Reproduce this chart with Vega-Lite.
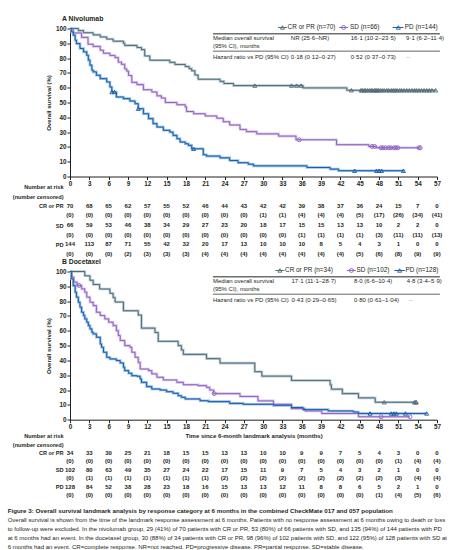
{
  "$schema": "https://vega.github.io/schema/vega-lite/v6.json",
  "padding": {"left": 7, "top": 15.5, "right": 0, "bottom": 0},
  "config": {
    "font": "Liberation Sans",
    "view": {"stroke": null},
    "axis": {"grid": false, "domainColor": "#231f20", "tickColor": "#231f20", "labelColor": "#231f20", "titleColor": "#231f20", "labelFontSize": 6.3, "titleFontSize": 6, "labelFontWeight": "bold", "titleFontWeight": "bold", "tickSize": 3, "labelPadding": 1, "domainWidth": 1, "tickWidth": 1, "labelFlush": false, "labelOverlap": false},
    "text": {"color": "#231f20"},
    "title": {"color": "#231f20"}
  },
  "title": {
    "text": "Figure 3: Overall survival landmark analysis by response category at 6 months in the combined CheckMate 017 and 057 population",
    "subtitle": [
      "Overall survival is shown from the time of the landmark response assessment at 6 months. Patients with no response assessment at 6 months owing to death or loss",
      "to follow-up were excluded. In the nivolumab group, 29 (41%) of 70 patients with CR or PR, 53 (80%) of 66 patients with SD, and 135 (94%) of 144 patients with PD",
      "at 6 months had an event. In the docetaxel group, 30 (88%) of 34 patients with CR or PR, 98 (96%) of 102 patients with SD, and 122 (95%) of 128 patients with SD at",
      "6 months had an event. CR=complete response. NR=not reached. PD=progressive disease. PR=partial response. SD=stable disease."
    ],
    "orient": "bottom", "anchor": "start", "frame": "bounds", "offset": 7, "dx": -4.7,
    "fontSize": 6.2, "fontWeight": "bold", "subtitleFontSize": 6.0, "subtitleFontWeight": "normal",
    "subtitleLineHeight": 9, "subtitlePadding": 2.5, "color": "#231f20", "subtitleColor": "#231f20"
  },
  "spacing": 4,
  "bounds": "flush",
  "vconcat": [
    {
      "width": 367, "height": 148,
      "title": {"text": "A  Nivolumab", "anchor": "start", "frame": "group", "dx": -8, "offset": 1, "fontSize": 6.8, "fontWeight": "bold"},
      "resolve": {"scale": {"color": "independent", "shape": "independent"}},
      "layer": [
        {"data": {"name": "kmA"}, "mark": {"type": "line", "interpolate": "step-after", "strokeWidth": 2.6},
         "encoding": {
           "x": {"field": "t", "type": "quantitative", "scale": {"domain": [0, 57], "nice": false, "zero": false}, "axis": {"values": [0,3,6,9,12,15,18,21,24,27,30,33,36,39,42,45,48,51,54,57], "tickCount": 40, "title": null, "labelOverlap": false, "labelFlush": false}},
           "y": {"field": "s", "type": "quantitative", "scale": {"domain": [0, 100], "nice": false}, "axis": {"values": [0,10,20,30,40,50,60,70,80,90,100], "tickCount": 40, "title": "Overall survival (%)", "titlePadding": 4, "labelOverlap": false, "labelFlush": false}},
           "color": {"field": "g", "type": "nominal", "scale": {"domain": ["CR","SD","PD"], "range": ["#b7ccd5","#d7c5ec","#95c0e6"]}, "legend": null}}},
        {"data": {"name": "kmA"}, "mark": {"type": "line", "interpolate": "step-after", "strokeWidth": 1},
         "encoding": {
           "x": {"field": "t", "type": "quantitative"},
           "y": {"field": "s", "type": "quantitative"},
           "color": {"field": "g", "type": "nominal", "scale": {"domain": ["CR","SD","PD"], "range": ["#506a75","#8f63c2","#1a5aa8"]}, "legend": null}}},
        {"data": {"name": "cenA"}, "mark": {"type": "point", "filled": false, "size": 16, "strokeWidth": 0.9, "opacity": 1},
         "encoding": {
           "x": {"field": "t", "type": "quantitative"},
           "y": {"field": "s", "type": "quantitative"},
           "color": {"field": "g", "type": "nominal", "scale": {"domain": ["CR","SD","PD"], "range": ["#506a75","#8f63c2","#1a5aa8"]}, "legend": null},
           "shape": {"field": "g", "type": "nominal", "scale": {"domain": ["CR","SD","PD"], "range": ["triangle-up","circle","triangle-up"]}, "legend": null}}},
        {"data": {"values": [{}]}, "mark": {"type": "rule", "color": "#506a75", "strokeWidth": 1}, "encoding": {"x": {"datum": 32.3}, "x2": {"datum": 33.7}, "y": {"datum": 100.7}}},
        {"data": {"values": [{}]}, "mark": {"type": "point", "shape": "triangle-up", "filled": false, "size": 16, "strokeWidth": 0.9, "color": "#506a75", "opacity": 1}, "encoding": {"x": {"datum": 33.0}, "y": {"datum": 100.7}}},
        {"data": {"values": [{}]}, "mark": {"type": "text", "align": "left", "baseline": "middle", "fontSize": 6.4}, "encoding": {"x": {"datum": 33.8}, "y": {"datum": 100.7}, "text": {"value": "CR or PR (n=70)"}}},
        {"data": {"values": [{}]}, "mark": {"type": "rule", "color": "#8f63c2", "strokeWidth": 1}, "encoding": {"x": {"datum": 41.8}, "x2": {"datum": 43.2}, "y": {"datum": 100.7}}},
        {"data": {"values": [{}]}, "mark": {"type": "point", "shape": "circle", "filled": false, "size": 16, "strokeWidth": 0.9, "color": "#8f63c2", "opacity": 1}, "encoding": {"x": {"datum": 42.5}, "y": {"datum": 100.7}}},
        {"data": {"values": [{}]}, "mark": {"type": "text", "align": "left", "baseline": "middle", "fontSize": 6.4}, "encoding": {"x": {"datum": 43.5}, "y": {"datum": 100.7}, "text": {"value": "SD (n=66)"}}},
        {"data": {"values": [{}]}, "mark": {"type": "rule", "color": "#1a5aa8", "strokeWidth": 1}, "encoding": {"x": {"datum": 50.1}, "x2": {"datum": 51.8}, "y": {"datum": 100.7}}},
        {"data": {"values": [{}]}, "mark": {"type": "point", "shape": "triangle-up", "filled": false, "size": 16, "strokeWidth": 0.9, "color": "#1a5aa8", "opacity": 1}, "encoding": {"x": {"datum": 51.0}, "y": {"datum": 100.7}}},
        {"data": {"values": [{}]}, "mark": {"type": "text", "align": "left", "baseline": "middle", "fontSize": 6.4}, "encoding": {"x": {"datum": 52.0}, "y": {"datum": 100.7}, "text": {"value": "PD (n=144)"}}},
        {"data": {"values": [{}]}, "mark": {"type": "rule", "color": "#6d6e71", "strokeWidth": 1.5}, "encoding": {"x": {"datum": 22.2}, "x2": {"datum": 57.45}, "y": {"datum": 96.4}}},
        {"data": {"values": [{}]}, "mark": {"type": "rule", "color": "#231f20", "strokeWidth": 0.7}, "encoding": {"x": {"datum": 22.2}, "x2": {"datum": 57.45}, "y": {"datum": 84.7}}},
        {"data": {"values": [{}]}, "mark": {"type": "text", "align": "left", "baseline": "middle", "fontSize": 6}, "encoding": {"x": {"datum": 22.2}, "y": {"datum": 93.3}, "text": {"value": "Median overall survival"}}},
        {"data": {"values": [{}]}, "mark": {"type": "text", "align": "left", "baseline": "middle", "fontSize": 6}, "encoding": {"x": {"datum": 22.2}, "y": {"datum": 88.1}, "text": {"value": "(95% CI), months"}}},
        {"data": {"values": [{}]}, "mark": {"type": "text", "align": "left", "baseline": "middle", "fontSize": 6}, "encoding": {"x": {"datum": 22.2}, "y": {"datum": 81.0}, "text": {"value": "Hazard ratio vs PD (95% CI)"}}},
        {"data": {"values": [{}]}, "mark": {"type": "text", "align": "left", "baseline": "middle", "fontSize": 6}, "encoding": {"x": {"datum": 34.3}, "y": {"datum": 93.3}, "text": {"value": "NR (25·6–NR)"}}},
        {"data": {"values": [{}]}, "mark": {"type": "text", "align": "left", "baseline": "middle", "fontSize": 6}, "encoding": {"x": {"datum": 43.6}, "y": {"datum": 93.3}, "text": {"value": "16·1 (10·2–23·5)"}}},
        {"data": {"values": [{}]}, "mark": {"type": "text", "align": "left", "baseline": "middle", "fontSize": 6}, "encoding": {"x": {"datum": 52.2}, "y": {"datum": 93.3}, "text": {"value": "9·1 (6·2–11·4)"}}},
        {"data": {"values": [{}]}, "mark": {"type": "text", "align": "left", "baseline": "middle", "fontSize": 6}, "encoding": {"x": {"datum": 34.3}, "y": {"datum": 81.0}, "text": {"value": "0·18 (0·12–0·27)"}}},
        {"data": {"values": [{}]}, "mark": {"type": "text", "align": "left", "baseline": "middle", "fontSize": 6}, "encoding": {"x": {"datum": 43.6}, "y": {"datum": 81.0}, "text": {"value": "0·52 (0·37–0·73)"}}},
        {"data": {"values": [{}]}, "mark": {"type": "text", "align": "left", "baseline": "middle", "fontSize": 6}, "encoding": {"x": {"datum": 52.2}, "y": {"datum": 81.0}, "text": {"value": "··"}}}
      ]
    },
    {
      "width": 367, "height": 86.72,
      "data": {"name": "riskA"},
      "transform": [{"fold": ["CR","CRc","SD","SDc","PD","PDc"], "as": ["row","v"]}],
      "mark": {"type": "text", "fontSize": 6, "fontWeight": "bold", "baseline": "middle", "align": "center"},
      "encoding": {
        "x": {"field": "t", "type": "quantitative", "scale": {"domain": [0, 57], "nice": false, "zero": false}, "axis": null},
        "y": {"field": "row", "type": "nominal", "scale": {"type": "point", "domain": ["h1","h2","CR","CRc","SD","SDc","PD","PDc"], "padding": 2.088, "align": 0.312},
              "axis": {"title": null, "domain": false, "ticks": false, "labelPadding": 7, "labelFontSize": 5.6, "labelFontWeight": "bold", "labelOverlap": false,
                       "labelExpr": "datum.value=='h1'?'Number at risk':datum.value=='h2'?'(number censored)':datum.value=='CR'?'CR or PR':datum.value=='SD'?'SD':datum.value=='PD'?'PD':''"}},
        "text": {"field": "v", "type": "nominal"}
      }
    },
    {
      "width": 367, "height": 148.2,
      "title": {"text": "B  Docetaxel", "anchor": "start", "frame": "group", "dx": -8, "offset": 1, "fontSize": 6.8, "fontWeight": "bold"},
      "resolve": {"scale": {"color": "independent", "shape": "independent"}},
      "layer": [
        {"data": {"name": "kmB"}, "mark": {"type": "line", "interpolate": "step-after", "strokeWidth": 2.6},
         "encoding": {
           "x": {"field": "t", "type": "quantitative", "scale": {"domain": [0, 57], "nice": false, "zero": false}, "axis": {"values": [0,3,6,9,12,15,18,21,24,27,30,33,36,39,42,45,48,51,54,57], "tickCount": 40, "title": "Time since 6-month landmark analysis (months)", "titlePadding": 2.5, "labelOverlap": false, "labelFlush": false}},
           "y": {"field": "s", "type": "quantitative", "scale": {"domain": [0, 100], "nice": false}, "axis": {"values": [0,10,20,30,40,50,60,70,80,90,100], "tickCount": 40, "title": "Overall survival (%)", "titlePadding": 4, "labelOverlap": false, "labelFlush": false}},
           "color": {"field": "g", "type": "nominal", "scale": {"domain": ["CR","SD","PD"], "range": ["#b7ccd5","#d7c5ec","#95c0e6"]}, "legend": null}}},
        {"data": {"name": "kmB"}, "mark": {"type": "line", "interpolate": "step-after", "strokeWidth": 1},
         "encoding": {
           "x": {"field": "t", "type": "quantitative"},
           "y": {"field": "s", "type": "quantitative"},
           "color": {"field": "g", "type": "nominal", "scale": {"domain": ["CR","SD","PD"], "range": ["#506a75","#8f63c2","#1a5aa8"]}, "legend": null}}},
        {"data": {"name": "cenB"}, "mark": {"type": "point", "filled": false, "size": 16, "strokeWidth": 0.9, "opacity": 1},
         "encoding": {
           "x": {"field": "t", "type": "quantitative"},
           "y": {"field": "s", "type": "quantitative"},
           "color": {"field": "g", "type": "nominal", "scale": {"domain": ["CR","SD","PD"], "range": ["#506a75","#8f63c2","#1a5aa8"]}, "legend": null},
           "shape": {"field": "g", "type": "nominal", "scale": {"domain": ["CR","SD","PD"], "range": ["triangle-up","circle","triangle-up"]}, "legend": null}}},
        {"data": {"values": [{}]}, "mark": {"type": "rule", "color": "#506a75", "strokeWidth": 1}, "encoding": {"x": {"datum": 31.9}, "x2": {"datum": 33.3}, "y": {"datum": 100.7}}},
        {"data": {"values": [{}]}, "mark": {"type": "point", "shape": "triangle-up", "filled": false, "size": 16, "strokeWidth": 0.9, "color": "#506a75", "opacity": 1}, "encoding": {"x": {"datum": 32.6}, "y": {"datum": 100.7}}},
        {"data": {"values": [{}]}, "mark": {"type": "text", "align": "left", "baseline": "middle", "fontSize": 6.4}, "encoding": {"x": {"datum": 33.4}, "y": {"datum": 100.7}, "text": {"value": "CR or PR (n=34)"}}},
        {"data": {"values": [{}]}, "mark": {"type": "rule", "color": "#8f63c2", "strokeWidth": 1}, "encoding": {"x": {"datum": 43.0}, "x2": {"datum": 44.4}, "y": {"datum": 100.7}}},
        {"data": {"values": [{}]}, "mark": {"type": "point", "shape": "circle", "filled": false, "size": 16, "strokeWidth": 0.9, "color": "#8f63c2", "opacity": 1}, "encoding": {"x": {"datum": 43.7}, "y": {"datum": 100.7}}},
        {"data": {"values": [{}]}, "mark": {"type": "text", "align": "left", "baseline": "middle", "fontSize": 6.4}, "encoding": {"x": {"datum": 44.5}, "y": {"datum": 100.7}, "text": {"value": "SD (n=102)"}}},
        {"data": {"values": [{}]}, "mark": {"type": "rule", "color": "#1a5aa8", "strokeWidth": 1}, "encoding": {"x": {"datum": 50.4}, "x2": {"datum": 52.0}, "y": {"datum": 100.7}}},
        {"data": {"values": [{}]}, "mark": {"type": "point", "shape": "triangle-up", "filled": false, "size": 16, "strokeWidth": 0.9, "color": "#1a5aa8", "opacity": 1}, "encoding": {"x": {"datum": 51.2}, "y": {"datum": 100.7}}},
        {"data": {"values": [{}]}, "mark": {"type": "text", "align": "left", "baseline": "middle", "fontSize": 6.4}, "encoding": {"x": {"datum": 52.1}, "y": {"datum": 100.7}, "text": {"value": "PD (n=128)"}}},
        {"data": {"values": [{}]}, "mark": {"type": "rule", "color": "#6d6e71", "strokeWidth": 1.5}, "encoding": {"x": {"datum": 22.2}, "x2": {"datum": 57.45}, "y": {"datum": 96.4}}},
        {"data": {"values": [{}]}, "mark": {"type": "rule", "color": "#231f20", "strokeWidth": 0.7}, "encoding": {"x": {"datum": 22.2}, "x2": {"datum": 57.45}, "y": {"datum": 84.7}}},
        {"data": {"values": [{}]}, "mark": {"type": "text", "align": "left", "baseline": "middle", "fontSize": 6}, "encoding": {"x": {"datum": 22.2}, "y": {"datum": 93.3}, "text": {"value": "Median overall survival"}}},
        {"data": {"values": [{}]}, "mark": {"type": "text", "align": "left", "baseline": "middle", "fontSize": 6}, "encoding": {"x": {"datum": 22.2}, "y": {"datum": 88.1}, "text": {"value": "(95% CI), months"}}},
        {"data": {"values": [{}]}, "mark": {"type": "text", "align": "left", "baseline": "middle", "fontSize": 6}, "encoding": {"x": {"datum": 22.2}, "y": {"datum": 81.0}, "text": {"value": "Hazard ratio vs PD (95% CI)"}}},
        {"data": {"values": [{}]}, "mark": {"type": "text", "align": "left", "baseline": "middle", "fontSize": 6}, "encoding": {"x": {"datum": 34.4}, "y": {"datum": 93.3}, "text": {"value": "17·1 (11·1–28·7)"}}},
        {"data": {"values": [{}]}, "mark": {"type": "text", "align": "left", "baseline": "middle", "fontSize": 6}, "encoding": {"x": {"datum": 44.1}, "y": {"datum": 93.3}, "text": {"value": "8·0 (6·6–10·4)"}}},
        {"data": {"values": [{}]}, "mark": {"type": "text", "align": "left", "baseline": "middle", "fontSize": 6}, "encoding": {"x": {"datum": 52.3}, "y": {"datum": 93.3}, "text": {"value": "4·8 (3·4–5·9)"}}},
        {"data": {"values": [{}]}, "mark": {"type": "text", "align": "left", "baseline": "middle", "fontSize": 6}, "encoding": {"x": {"datum": 34.4}, "y": {"datum": 81.0}, "text": {"value": "0·43 (0·29–0·65)"}}},
        {"data": {"values": [{}]}, "mark": {"type": "text", "align": "left", "baseline": "middle", "fontSize": 6}, "encoding": {"x": {"datum": 44.1}, "y": {"datum": 81.0}, "text": {"value": "0·80 (0·61–1·04)"}}},
        {"data": {"values": [{}]}, "mark": {"type": "text", "align": "left", "baseline": "middle", "fontSize": 6}, "encoding": {"x": {"datum": 52.6}, "y": {"datum": 81.0}, "text": {"value": "··"}}}
      ]
    },
    {
      "width": 367, "height": 76.87,
      "data": {"name": "riskB"},
      "transform": [{"fold": ["CR","CRc","SD","SDc","PD","PDc"], "as": ["row","v"]}],
      "mark": {"type": "text", "fontSize": 6, "fontWeight": "bold", "baseline": "middle", "align": "center"},
      "encoding": {
        "x": {"field": "t", "type": "quantitative", "scale": {"domain": [0, 57], "nice": false, "zero": false}, "axis": null},
        "y": {"field": "row", "type": "nominal", "scale": {"type": "point", "domain": ["h1","h2","CR","CRc","SD","SDc","PD","PDc"], "padding": 1.485, "align": 0.651},
              "axis": {"title": null, "domain": false, "ticks": false, "labelPadding": 7, "labelFontSize": 5.6, "labelFontWeight": "bold", "labelOverlap": false,
                       "labelExpr": "datum.value=='h1'?'Number at risk':datum.value=='h2'?'(number censored)':datum.value=='CR'?'CR or PR':datum.value=='SD'?'SD':datum.value=='PD'?'PD':''"}},
        "text": {"field": "v", "type": "nominal"}
      }
    }
  ],
  "datasets": {
    "kmA": [
      {"g":"CR","t":0,"s":100},{"g":"CR","t":1.3,"s":98.57},{"g":"CR","t":2.1,"s":97.14},{"g":"CR","t":3.6,"s":95.71},{"g":"CR","t":4.7,"s":94.29},{"g":"CR","t":5.7,"s":92.86},{"g":"CR","t":6.7,"s":91.43},{"g":"CR","t":8.3,"s":90.0},{"g":"CR","t":8.5,"s":88.57},{"g":"CR","t":10.4,"s":87.14},{"g":"CR","t":11.1,"s":85.71},{"g":"CR","t":11.6,"s":81.43},{"g":"CR","t":12.4,"s":78.57},{"g":"CR","t":15.5,"s":77.14},{"g":"CR","t":16.3,"s":75.71},{"g":"CR","t":17.9,"s":74.29},{"g":"CR","t":18.5,"s":72.86},{"g":"CR","t":18.9,"s":71.43},{"g":"CR","t":19.4,"s":68.57},{"g":"CR","t":19.9,"s":65.71},{"g":"CR","t":23.3,"s":64.29},{"g":"CR","t":23.9,"s":62.86},{"g":"CR","t":25.4,"s":61.43},{"g":"CR","t":36.2,"s":59.86},{"g":"CR","t":43.0,"s":58.27},{"g":"CR","t":56.8,"s":58.27},
      {"g":"SD","t":0,"s":100},{"g":"SD","t":0.5,"s":97.0},{"g":"SD","t":1.8,"s":94.0},{"g":"SD","t":2.8,"s":89.4},{"g":"SD","t":3.6,"s":87.9},{"g":"SD","t":4.7,"s":85.3},{"g":"SD","t":5.2,"s":83.3},{"g":"SD","t":6.2,"s":81.8},{"g":"SD","t":7.0,"s":80.3},{"g":"SD","t":7.5,"s":77.3},{"g":"SD","t":8.0,"s":75.8},{"g":"SD","t":8.5,"s":72.7},{"g":"SD","t":8.8,"s":71.2},{"g":"SD","t":9.1,"s":68.2},{"g":"SD","t":9.6,"s":63.6},{"g":"SD","t":10.4,"s":62.1},{"g":"SD","t":11.4,"s":58.6},{"g":"SD","t":12.7,"s":57.1},{"g":"SD","t":13.5,"s":54.5},{"g":"SD","t":14.2,"s":53.0},{"g":"SD","t":14.8,"s":50.0},{"g":"SD","t":16.6,"s":48.5},{"g":"SD","t":17.9,"s":47.0},{"g":"SD","t":18.1,"s":43.9},{"g":"SD","t":19.2,"s":42.4},{"g":"SD","t":21.0,"s":40.9},{"g":"SD","t":22.8,"s":39.4},{"g":"SD","t":23.8,"s":37.0},{"g":"SD","t":24.8,"s":34.8},{"g":"SD","t":26.4,"s":31.8},{"g":"SD","t":27.4,"s":30.3},{"g":"SD","t":29.0,"s":28.8},{"g":"SD","t":32.4,"s":27.3},{"g":"SD","t":35.1,"s":24.8},{"g":"SD","t":41.4,"s":21.5},{"g":"SD","t":46.4,"s":20.3},{"g":"SD","t":47.6,"s":19.4},{"g":"SD","t":54.4,"s":19.4},
      {"g":"PD","t":0,"s":100},{"g":"PD","t":0.26,"s":97.7},{"g":"PD","t":0.5,"s":95.5},{"g":"PD","t":0.8,"s":92.1},{"g":"PD","t":1.0,"s":89.8},{"g":"PD","t":1.55,"s":86.5},{"g":"PD","t":2.1,"s":84.2},{"g":"PD","t":2.6,"s":81.9},{"g":"PD","t":2.85,"s":78.6},{"g":"PD","t":3.1,"s":75.2},{"g":"PD","t":3.4,"s":71.8},{"g":"PD","t":3.6,"s":70.7},{"g":"PD","t":4.1,"s":68.4},{"g":"PD","t":4.7,"s":66.1},{"g":"PD","t":5.7,"s":63.9},{"g":"PD","t":6.2,"s":60.5},{"g":"PD","t":6.5,"s":57.1},{"g":"PD","t":7.2,"s":53.7},{"g":"PD","t":8.3,"s":52.6},{"g":"PD","t":9.3,"s":51.0},{"g":"PD","t":10.1,"s":49.2},{"g":"PD","t":10.6,"s":45.8},{"g":"PD","t":11.4,"s":42.4},{"g":"PD","t":12.2,"s":39.1},{"g":"PD","t":12.9,"s":35.7},{"g":"PD","t":13.5,"s":33.4},{"g":"PD","t":14.5,"s":31.2},{"g":"PD","t":15.5,"s":30.0},{"g":"PD","t":16.0,"s":27.8},{"g":"PD","t":16.6,"s":25.5},{"g":"PD","t":17.1,"s":23.3},{"g":"PD","t":17.9,"s":22.1},{"g":"PD","t":18.4,"s":21.0},{"g":"PD","t":18.9,"s":18.7},{"g":"PD","t":20.7,"s":14.7},{"g":"PD","t":21.2,"s":13.8},{"g":"PD","t":23.3,"s":12.6},{"g":"PD","t":24.8,"s":10.8},{"g":"PD","t":26.1,"s":9.3},{"g":"PD","t":27.7,"s":8.3},{"g":"PD","t":28.5,"s":7.2},{"g":"PD","t":36.8,"s":6.1},{"g":"PD","t":40.4,"s":5.0},{"g":"PD","t":41.7,"s":3.9},{"g":"PD","t":51.9,"s":3.9}
    ],
    "cenA": [
      {"g":"CR","t":28.7,"s":61.43},{"g":"CR","t":34.4,"s":61.43},{"g":"CR","t":35.2,"s":61.43},{"g":"CR","t":35.9,"s":61.43},{"g":"CR","t":43.7,"s":58.27},
      {"g":"CR","t":45.2,"s":58.27},{"g":"CR","t":45.4,"s":58.27},{"g":"CR","t":45.7,"s":58.27},{"g":"CR","t":45.9,"s":58.27},{"g":"CR","t":46.2,"s":58.27},{"g":"CR","t":46.5,"s":58.27},{"g":"CR","t":46.8,"s":58.27},{"g":"CR","t":47.0,"s":58.27},{"g":"CR","t":47.3,"s":58.27},{"g":"CR","t":47.5,"s":58.27},{"g":"CR","t":47.7,"s":58.27},{"g":"CR","t":47.9,"s":58.27},
      {"g":"CR","t":48.2,"s":58.27},{"g":"CR","t":48.5,"s":58.27},{"g":"CR","t":48.8,"s":58.27},{"g":"CR","t":49.2,"s":58.27},{"g":"CR","t":49.5,"s":58.27},{"g":"CR","t":49.9,"s":58.27},{"g":"CR","t":50.2,"s":58.27},{"g":"CR","t":50.5,"s":58.27},{"g":"CR","t":50.8,"s":58.27},
      {"g":"CR","t":51.2,"s":58.27},{"g":"CR","t":51.5,"s":58.27},{"g":"CR","t":51.9,"s":58.27},{"g":"CR","t":52.3,"s":58.27},{"g":"CR","t":52.7,"s":58.27},{"g":"CR","t":53.1,"s":58.27},{"g":"CR","t":53.5,"s":58.27},{"g":"CR","t":53.8,"s":58.27},
      {"g":"CR","t":54.2,"s":58.27},{"g":"CR","t":54.6,"s":58.27},{"g":"CR","t":55.0,"s":58.27},{"g":"CR","t":55.4,"s":58.27},{"g":"CR","t":55.8,"s":58.27},{"g":"CR","t":56.2,"s":58.27},{"g":"CR","t":56.8,"s":58.27},
      {"g":"SD","t":35.6,"s":24.8},{"g":"SD","t":46.9,"s":20.3},{"g":"SD","t":47.3,"s":20.3},{"g":"SD","t":48.3,"s":19.4},{"g":"SD","t":48.6,"s":19.4},{"g":"SD","t":49.0,"s":19.4},{"g":"SD","t":49.5,"s":19.4},{"g":"SD","t":49.8,"s":19.4},{"g":"SD","t":50.3,"s":19.4},{"g":"SD","t":50.6,"s":19.4},{"g":"SD","t":50.9,"s":19.4},{"g":"SD","t":54.2,"s":19.4},{"g":"SD","t":54.4,"s":19.4},
      {"g":"PD","t":6.5,"s":57.1},{"g":"PD","t":6.9,"s":57.1},{"g":"PD","t":10.6,"s":45.8},{"g":"PD","t":19.2,"s":18.7},{"g":"PD","t":44.2,"s":3.9},{"g":"PD","t":47.6,"s":3.9},{"g":"PD","t":48.0,"s":3.9},{"g":"PD","t":48.4,"s":3.9},{"g":"PD","t":51.8,"s":3.9}
    ],
    "kmB": [
      {"g":"CR","t":0,"s":100},{"g":"CR","t":2.3,"s":97.1},{"g":"CR","t":3.1,"s":94.1},{"g":"CR","t":3.6,"s":91.2},{"g":"CR","t":4.6,"s":88.2},{"g":"CR","t":6.2,"s":85.3},{"g":"CR","t":6.7,"s":82.4},{"g":"CR","t":7.0,"s":79.4},{"g":"CR","t":8.3,"s":73.5},{"g":"CR","t":10.6,"s":70.6},{"g":"CR","t":11.1,"s":61.8},{"g":"CR","t":13.2,"s":58.8},{"g":"CR","t":13.7,"s":52.9},{"g":"CR","t":16.8,"s":50.0},{"g":"CR","t":17.3,"s":47.1},{"g":"CR","t":17.6,"s":44.1},{"g":"CR","t":21.2,"s":41.2},{"g":"CR","t":23.3,"s":38.2},{"g":"CR","t":28.7,"s":32.4},{"g":"CR","t":29.8,"s":29.4},{"g":"CR","t":34.4,"s":26.5},{"g":"CR","t":40.4,"s":23.5},{"g":"CR","t":40.6,"s":20.6},{"g":"CR","t":42.3,"s":17.6},{"g":"CR","t":44.8,"s":14.7},{"g":"CR","t":47.4,"s":11.8},{"g":"CR","t":53.8,"s":11.8},
      {"g":"SD","t":0,"s":100},{"g":"SD","t":0.26,"s":96.2},{"g":"SD","t":0.6,"s":92.8},{"g":"SD","t":1.1,"s":90.6},{"g":"SD","t":1.8,"s":88.3},{"g":"SD","t":2.3,"s":86.0},{"g":"SD","t":2.6,"s":82.7},{"g":"SD","t":3.1,"s":79.3},{"g":"SD","t":3.6,"s":77.0},{"g":"SD","t":4.1,"s":72.5},{"g":"SD","t":4.7,"s":70.3},{"g":"SD","t":5.4,"s":68.0},{"g":"SD","t":6.0,"s":65.8},{"g":"SD","t":6.7,"s":63.5},{"g":"SD","t":7.2,"s":60.1},{"g":"SD","t":7.5,"s":56.8},{"g":"SD","t":7.8,"s":53.4},{"g":"SD","t":8.5,"s":50.0},{"g":"SD","t":9.3,"s":48.9},{"g":"SD","t":9.6,"s":45.5},{"g":"SD","t":10.1,"s":42.1},{"g":"SD","t":10.6,"s":38.7},{"g":"SD","t":10.9,"s":34.2},{"g":"SD","t":12.2,"s":33.1},{"g":"SD","t":12.7,"s":30.9},{"g":"SD","t":13.5,"s":28.6},{"g":"SD","t":14.5,"s":26.8},{"g":"SD","t":16.6,"s":25.2},{"g":"SD","t":17.6,"s":23.6},{"g":"SD","t":19.9,"s":23.0},{"g":"SD","t":21.2,"s":21.8},{"g":"SD","t":21.7,"s":20.0},{"g":"SD","t":22.3,"s":17.6},{"g":"SD","t":26.4,"s":15.7},{"g":"SD","t":29.2,"s":12.7},{"g":"SD","t":31.6,"s":10.4},{"g":"SD","t":34.4,"s":7.5},{"g":"SD","t":36.5,"s":5.9},{"g":"SD","t":39.1,"s":4.2},{"g":"SD","t":44.8,"s":2.0},{"g":"SD","t":52.8,"s":2.0},
      {"g":"PD","t":0,"s":100},{"g":"PD","t":0.26,"s":95.0},{"g":"PD","t":0.5,"s":90.5},{"g":"PD","t":0.8,"s":86.0},{"g":"PD","t":1.0,"s":82.7},{"g":"PD","t":1.3,"s":79.3},{"g":"PD","t":1.55,"s":75.9},{"g":"PD","t":1.8,"s":72.5},{"g":"PD","t":2.1,"s":70.3},{"g":"PD","t":2.3,"s":68.0},{"g":"PD","t":2.6,"s":65.8},{"g":"PD","t":2.85,"s":63.5},{"g":"PD","t":3.1,"s":61.3},{"g":"PD","t":3.4,"s":59.0},{"g":"PD","t":3.6,"s":57.9},{"g":"PD","t":4.1,"s":55.6},{"g":"PD","t":4.7,"s":51.1},{"g":"PD","t":4.9,"s":48.9},{"g":"PD","t":5.2,"s":45.5},{"g":"PD","t":5.7,"s":42.1},{"g":"PD","t":6.2,"s":41.0},{"g":"PD","t":7.2,"s":39.9},{"g":"PD","t":7.8,"s":38.3},{"g":"PD","t":8.3,"s":35.4},{"g":"PD","t":8.5,"s":33.1},{"g":"PD","t":9.1,"s":31.3},{"g":"PD","t":9.6,"s":29.7},{"g":"PD","t":10.4,"s":29.3},{"g":"PD","t":10.9,"s":27.5},{"g":"PD","t":11.1,"s":25.2},{"g":"PD","t":11.9,"s":22.3},{"g":"PD","t":12.7,"s":20.7},{"g":"PD","t":14.0,"s":20.0},{"g":"PD","t":15.0,"s":18.9},{"g":"PD","t":16.0,"s":17.8},{"g":"PD","t":16.8,"s":16.2},{"g":"PD","t":17.3,"s":15.1},{"g":"PD","t":17.9,"s":14.0},{"g":"PD","t":20.2,"s":12.8},{"g":"PD","t":21.5,"s":12.2},{"g":"PD","t":24.8,"s":11.0},{"g":"PD","t":26.9,"s":10.4},{"g":"PD","t":31.6,"s":9.7},{"g":"PD","t":34.4,"s":8.2},{"g":"PD","t":36.2,"s":6.8},{"g":"PD","t":40.1,"s":5.9},{"g":"PD","t":44.0,"s":5.2},{"g":"PD","t":44.8,"s":4.2},{"g":"PD","t":55.4,"s":4.2}
    ],
    "cenB": [
      {"g":"CR","t":48.8,"s":11.8},{"g":"CR","t":53.5,"s":11.8},{"g":"CR","t":53.7,"s":11.8},{"g":"CR","t":53.8,"s":11.8},
      {"g":"SD","t":1.4,"s":90.6},{"g":"SD","t":22.4,"s":17.6},{"g":"SD","t":48.3,"s":2.0},{"g":"SD","t":52.8,"s":2.0},
      {"g":"PD","t":46.6,"s":4.2},{"g":"PD","t":49.9,"s":4.2},{"g":"PD","t":50.3,"s":4.2},{"g":"PD","t":50.7,"s":4.2},{"g":"PD","t":52.1,"s":4.2},{"g":"PD","t":55.4,"s":4.2}
    ],
    "riskA": [
      {"t":0,"CR":"70","CRc":"(0)","SD":"66","SDc":"(0)","PD":"144","PDc":"(0)"},
      {"t":3,"CR":"68","CRc":"(0)","SD":"59","SDc":"(0)","PD":"113","PDc":"(0)"},
      {"t":6,"CR":"65","CRc":"(0)","SD":"53","SDc":"(0)","PD":"87","PDc":"(0)"},
      {"t":9,"CR":"62","CRc":"(0)","SD":"46","SDc":"(0)","PD":"71","PDc":"(2)"},
      {"t":12,"CR":"57","CRc":"(0)","SD":"38","SDc":"(0)","PD":"55","PDc":"(3)"},
      {"t":15,"CR":"55","CRc":"(0)","SD":"34","SDc":"(0)","PD":"42","PDc":"(3)"},
      {"t":18,"CR":"52","CRc":"(0)","SD":"29","SDc":"(0)","PD":"32","PDc":"(3)"},
      {"t":21,"CR":"46","CRc":"(0)","SD":"27","SDc":"(0)","PD":"20","PDc":"(4)"},
      {"t":24,"CR":"44","CRc":"(0)","SD":"23","SDc":"(0)","PD":"17","PDc":"(4)"},
      {"t":27,"CR":"43","CRc":"(0)","SD":"20","SDc":"(0)","PD":"13","PDc":"(4)"},
      {"t":30,"CR":"42","CRc":"(1)","SD":"18","SDc":"(0)","PD":"10","PDc":"(4)"},
      {"t":33,"CR":"42","CRc":"(1)","SD":"17","SDc":"(0)","PD":"10","PDc":"(4)"},
      {"t":36,"CR":"39","CRc":"(4)","SD":"15","SDc":"(1)","PD":"10","PDc":"(4)"},
      {"t":39,"CR":"38","CRc":"(4)","SD":"15","SDc":"(1)","PD":"8","PDc":"(4)"},
      {"t":42,"CR":"37","CRc":"(4)","SD":"13","SDc":"(1)","PD":"5","PDc":"(4)"},
      {"t":45,"CR":"36","CRc":"(5)","SD":"13","SDc":"(1)","PD":"4","PDc":"(5)"},
      {"t":48,"CR":"24","CRc":"(17)","SD":"10","SDc":"(3)","PD":"3","PDc":"(6)"},
      {"t":51,"CR":"15","CRc":"(26)","SD":"2","SDc":"(11)","PD":"1","PDc":"(8)"},
      {"t":54,"CR":"7","CRc":"(34)","SD":"2","SDc":"(11)","PD":"0","PDc":"(9)"},
      {"t":57,"CR":"0","CRc":"(41)","SD":"0","SDc":"(13)","PD":"0","PDc":"(9)"}
    ],
    "riskB": [
      {"t":0,"CR":"34","CRc":"(0)","SD":"102","SDc":"(0)","PD":"128","PDc":"(0)"},
      {"t":3,"CR":"33","CRc":"(0)","SD":"80","SDc":"(1)","PD":"84","PDc":"(0)"},
      {"t":6,"CR":"30","CRc":"(0)","SD":"63","SDc":"(1)","PD":"52","PDc":"(0)"},
      {"t":9,"CR":"25","CRc":"(0)","SD":"49","SDc":"(1)","PD":"38","PDc":"(0)"},
      {"t":12,"CR":"21","CRc":"(0)","SD":"35","SDc":"(1)","PD":"28","PDc":"(0)"},
      {"t":15,"CR":"18","CRc":"(0)","SD":"27","SDc":"(1)","PD":"23","PDc":"(0)"},
      {"t":18,"CR":"15","CRc":"(0)","SD":"24","SDc":"(1)","PD":"18","PDc":"(0)"},
      {"t":21,"CR":"15","CRc":"(0)","SD":"22","SDc":"(1)","PD":"16","PDc":"(0)"},
      {"t":24,"CR":"13","CRc":"(0)","SD":"17","SDc":"(2)","PD":"15","PDc":"(0)"},
      {"t":27,"CR":"13","CRc":"(0)","SD":"15","SDc":"(2)","PD":"13","PDc":"(0)"},
      {"t":30,"CR":"10","CRc":"(0)","SD":"11","SDc":"(2)","PD":"13","PDc":"(0)"},
      {"t":33,"CR":"10","CRc":"(0)","SD":"9","SDc":"(2)","PD":"12","PDc":"(0)"},
      {"t":36,"CR":"9","CRc":"(0)","SD":"7","SDc":"(2)","PD":"11","PDc":"(0)"},
      {"t":39,"CR":"9","CRc":"(0)","SD":"5","SDc":"(2)","PD":"8","PDc":"(0)"},
      {"t":42,"CR":"7","CRc":"(0)","SD":"4","SDc":"(2)","PD":"8","PDc":"(0)"},
      {"t":45,"CR":"5","CRc":"(0)","SD":"3","SDc":"(2)","PD":"6","PDc":"(0)"},
      {"t":48,"CR":"4","CRc":"(0)","SD":"2","SDc":"(2)","PD":"5","PDc":"(1)"},
      {"t":51,"CR":"3","CRc":"(1)","SD":"1","SDc":"(3)","PD":"2","PDc":"(4)"},
      {"t":54,"CR":"0","CRc":"(4)","SD":"0","SDc":"(4)","PD":"1","PDc":"(5)"},
      {"t":57,"CR":"0","CRc":"(4)","SD":"0","SDc":"(4)","PD":"0","PDc":"(6)"}
    ]
  }
}
